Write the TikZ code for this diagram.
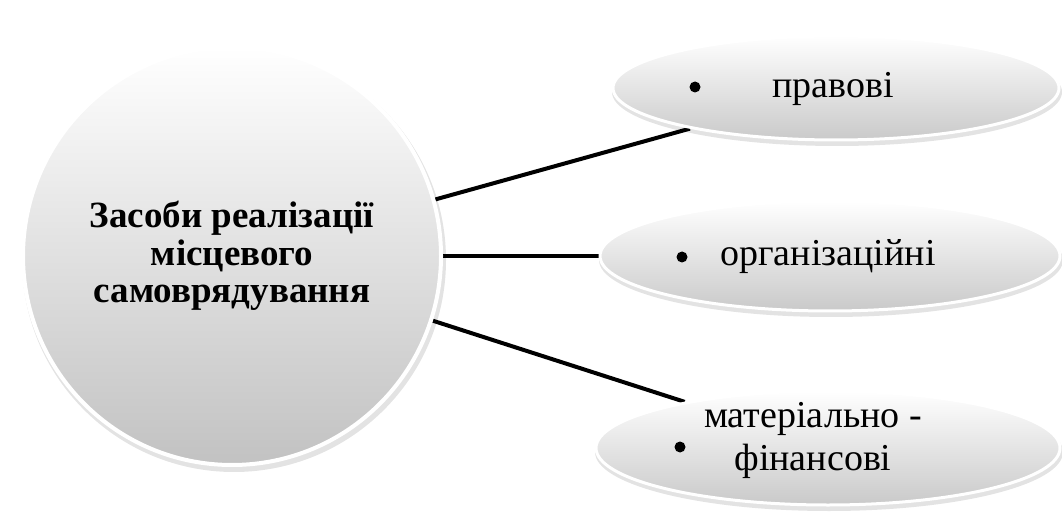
\documentclass[tikz,border=0pt]{standalone}
\usepackage{fontspec}
\setmainfont{Liberation Serif}
\usetikzlibrary{shapes.geometric,backgrounds}
\begin{document}
\begin{tikzpicture}[x=1pt,y=-1pt,
  hub/.style={circle, minimum size=418pt, inner sep=0pt, draw=white, line width=4pt,
    top color=white, bottom color=gray!48, align=center,
    font=\fontsize{37}{37.5}\selectfont\bfseries},
  leaf/.style={ellipse, inner sep=0pt, draw=white, line width=3pt,
    top color=white, bottom color=gray!42},
  link/.style={line width=4pt, black},
  lbl/.style={font=\fontsize{38}{43}\selectfont, align=center, inner sep=0pt},
  dot/.style={circle, fill=black, inner sep=0pt, minimum size=11pt},
  shade/.style={fill=gray!22}
]
\useasboundingbox (0,0) rectangle (1062,518);
\node[hub] (c) at (232,256) {Засоби реалізації\\місцевого\\самоврядування};
\node[leaf, minimum width=446pt, minimum height=104pt] (e1) at (836,88) {};
\node[leaf, minimum width=460pt, minimum height=110pt] (e2) at (830,256) {};
\node[leaf, minimum width=464pt, minimum height=114pt] (e3) at (828,448) {};
\begin{pgfonlayer}{background}
  \fill[shade] (234,260) circle (212pt);
  \fill[shade] (837,92) ellipse (225pt and 54pt);
  \fill[shade] (831,260) ellipse (232pt and 57pt);
  \fill[shade] (829,452) ellipse (234pt and 59pt);
  \draw[link] (c) -- (e1);
  \draw[link] (c) -- (e2);
  \draw[link] (c) -- (e3);
\end{pgfonlayer}
\node[dot] (b1) at (695,87) {};
\node[lbl] (t1) at (833,89) {правові};
\node[dot] (b2) at (682,257) {};
\node[lbl] (t2) at (828,257) {організаційні};
\node[dot] (b3) at (680,447) {};
\node[lbl] (t3) at (813,440) {матеріально -\\фінансові};
\end{tikzpicture}
\end{document}
